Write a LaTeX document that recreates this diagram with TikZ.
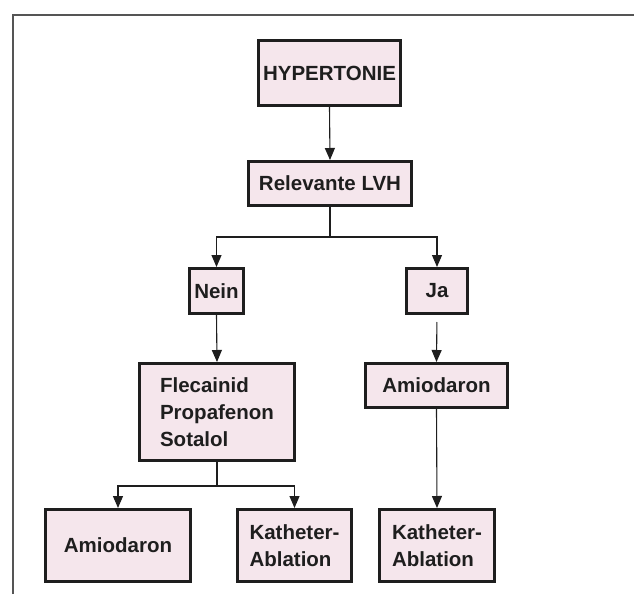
\documentclass[tikz,border=0pt]{standalone}
\usepackage{fontspec}
\setmainfont{Liberation Sans}
\usetikzlibrary{arrows.meta,positioning}
\definecolor{BoxFill}{HTML}{F5E6EC}
\definecolor{BoxLine}{HTML}{1E1E1E}
\definecolor{FrameLine}{HTML}{555555}
\tikzset{>={Triangle[length=12pt,width=10pt]},every node/.style={font=\fontsize{20.5}{27}\selectfont\bfseries},
 box/.style={draw=BoxLine,fill=BoxFill,line width=3pt,inner sep=0pt,align=left,text=BoxLine},
 link/.style={draw=BoxLine,line width=1.1pt}}
\begin{document}
\begin{tikzpicture}[x=1pt,y=-1pt]
\useasboundingbox (0,0) rectangle (634,594);
\draw[FrameLine,line width=1.5pt] (13,594)--(13,15)--(634,15);
\node[box,minimum width=142,minimum height=65] (hyp) at (329.5,73) {HYPERTONIE};
\node[box,minimum width=163,minimum height=44] (lvh) at (330,183.5) {Relevante LVH};
\node[box,minimum width=54,minimum height=45] (nein) at (216.5,291) {Nein};
\node[box,minimum width=61,minimum height=45] (ja) at (437,291) {Ja};
\node[box,minimum width=155,minimum height=97] (flec) at (217,412) {Flecainid\\Propafenon\\Sotalol};
\node[box,minimum width=142,minimum height=44] (amioR) at (436.5,385.5) {Amiodaron};
\node[box,minimum width=145,minimum height=72] (amioL) at (118,545.5) {Amiodaron};
\node[box,minimum width=114,minimum height=72] (kathM) at (294.5,545.5) {Katheter-\\Ablation};
\node[box,minimum width=115,minimum height=72] (kathR) at (437,545.5) {Katheter-\\Ablation};
\draw[link,->] (hyp.south) -- (lvh.north);
\draw[link,->] (lvh.south) -- ++(0,30) -| (nein.north);
\draw[link,->] (lvh.south) -- ++(0,30) -| (ja.north);
\draw[link,->] (nein.south) -- (flec.north);
\draw[link,->,shorten <=7pt] (ja.south) -- (amioR.north);
\draw[link,->] (amioR.south) -- (kathR.north);
\draw[link,->] (flec.south) -- ++(0,24) -| (amioL.north);
\draw[link,->] (flec.south) -- ++(0,24) -| (kathM.north);
\end{tikzpicture}
\end{document}
